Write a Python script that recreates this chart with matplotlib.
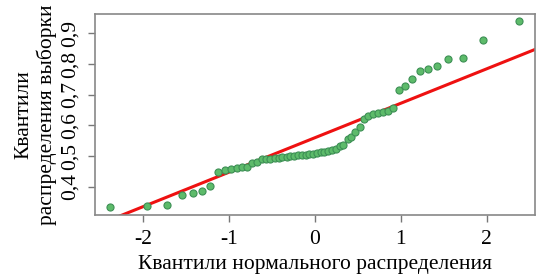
import matplotlib.pyplot as plt

plt.rcParams['font.family'] = ['Liberation Serif', 'DejaVu Serif']

# theoretical normal quantiles (x) and sample quantiles (y)
teor = [-2.38, -1.95, -1.72, -1.55, -1.42, -1.31, -1.22, -1.13, -1.05, -0.98,
        -0.91, -0.85, -0.79, -0.73, -0.67, -0.62, -0.57, -0.52, -0.47, -0.42,
        -0.38, -0.33, -0.29, -0.24, -0.20, -0.15, -0.11, -0.07, -0.02, 0.02,
        0.07, 0.11, 0.15, 0.20, 0.24, 0.29, 0.33, 0.38, 0.42, 0.47,
        0.52, 0.57, 0.62, 0.67, 0.73, 0.79, 0.85, 0.91, 0.98, 1.05,
        1.13, 1.22, 1.31, 1.42, 1.55, 1.72, 1.95, 2.38]
amostra = [0.333, 0.338, 0.340, 0.373, 0.380, 0.387, 0.402, 0.448, 0.454, 0.458,
           0.460, 0.463, 0.465, 0.476, 0.481, 0.489, 0.490, 0.492, 0.493, 0.494,
           0.496, 0.497, 0.499, 0.500, 0.502, 0.503, 0.505, 0.506, 0.508, 0.510,
           0.512, 0.514, 0.516, 0.519, 0.522, 0.532, 0.536, 0.556, 0.562, 0.580,
           0.594, 0.622, 0.630, 0.636, 0.641, 0.645, 0.647, 0.658, 0.715, 0.729,
           0.752, 0.777, 0.783, 0.793, 0.818, 0.820, 0.879, 0.939]

# reference line (through the quartiles)
linha_x = [-3.0, 3.0]
linha_y = [0.560 - 0.1123 * 3.0, 0.560 + 0.1123 * 3.0]

yticks = [0.4, 0.5, 0.6, 0.7, 0.8, 0.9]
ytick_labels = ["0,4", "0,5", "0,6", "0,7", "0,8", "0,9"]
xticks = [-2, -1, 0, 1, 2]
xtick_labels = ["-2", "-1", "0", "1", "2"]

fig = plt.figure(figsize=(5.47, 2.8), dpi=100)
ax = fig.add_axes([0.1737, 0.232, 0.8043, 0.718])

ax.plot(linha_x, linha_y, color="#ee1111", lw=2.2, zorder=2)
ax.scatter(teor, amostra, s=26, color="#5dbb6a", edgecolors="#3d8f55",
           linewidths=0.8, zorder=3)

ax.set_xlim(-2.56, 2.56)
ax.set_ylim(0.308, 0.963)

ax.set_xticks(xticks, xtick_labels, fontsize=15.5)
ax.set_yticks(yticks, ytick_labels, fontsize=15.5, rotation=90, va="center")
ax.tick_params(axis="both", direction="out", length=5, width=1,
               color="#777777", pad=6)
for s in ax.spines.values():
    s.set_color("#888888")
    s.set_linewidth(1.2)

ax.set_xlabel("Квантили нормального распределения", fontsize=15.5, labelpad=4)
ax.set_ylabel("Квантили\nраспределения выборки", fontsize=15.5, labelpad=3,
              linespacing=1.15)

fig.savefig("out.png", dpi=100)
